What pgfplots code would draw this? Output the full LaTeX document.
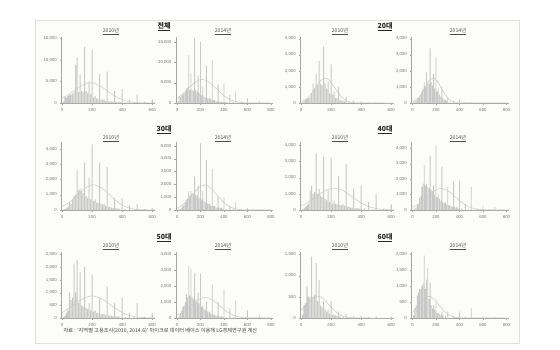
\documentclass[border=0pt]{standalone}
\usepackage{pgfplots}
\pgfplotsset{compat=1.18}
\usepackage{fontspec}
\setmainfont{Liberation Sans}
\newfontfamily\kr{Noto Sans CJK KR}
\definecolor{bg}{RGB}{252,252,249}
\definecolor{barc}{RGB}{200,200,200}
\definecolor{curc}{RGB}{200,200,200}
\pgfplotsset{
  hist/.style={
    scale only axis, anchor=south west,
    axis lines=left,
    axis line style={draw=black!35,-},
    ymin=0,
    major tick length=1.5pt,
    tick style={draw=black!35},
    tick align=outside,
    ticklabel style={font=\fontsize{4.3}{5}\selectfont, text=black!55},
    /pgf/number format/assume math mode=true,
    /pgf/number format/1000 sep={,},
    scaled y ticks=false,
    xtick={0,200,400,600,800},
    yticklabel style={xshift=0.5pt},
  },
  s6/.style={xmin=-5,xmax=620,width=94pt},
  s8/.style={xmin=-10,xmax=820,width=97.5pt},
  bars/.style={ybar, bar width=7, fill=barc, draw=none},
  curve/.style={smooth, no markers, draw=curc, line width=0.5pt},
}
\newcommand{\ttl}[3]{\node[font=\kr\bfseries\fontsize{7}{8}\selectfont, text=black!85] at (#1pt,#2pt) {\underline{#3}};}
\newcommand{\sub}[3]{\node[font=\kr\fontsize{5.2}{6}\selectfont, text=black!70] at (#1pt,#2pt) {\underline{#3}};}
\begin{document}
\begin{tikzpicture}
\useasboundingbox (0pt,0pt) rectangle (560pt,349pt);
\draw[black!12, line width=0.8pt, fill=bg] (35pt,6pt) rectangle (519pt,329pt);

% ---------- Row 1 ----------
\ttl{164}{322}{전체}
\sub{111}{317}{2010년}
\sub{223}{317}{2014년}
\ttl{385}{322}{20대}
\sub{340}{317}{2010년}
\sub{458}{317}{2014년}

\begin{axis}[hist,s6,at={(61.25pt,246pt)},height=66pt,ymax=15300,ytick={0,5000,10000,15000}]
\addplot[bars] coordinates {(10,300)(20,1500)(30,1200)(40,1600)(50,1800)(60,2000)(70,2200)(80,2600)(90,8800)(100,10500)(110,2500)(120,6600)(130,2800)(140,2500)(150,13000)(160,2800)(170,2300)(180,5000)(190,2000)(200,12300)(210,1300)(220,1600)(230,1100)(240,900)(250,6800)(260,800)(270,700)(280,900)(290,500)(300,7300)(310,400)(320,400)(330,350)(340,250)(350,2800)(360,250)(370,150)(380,250)(390,120)(400,3200)(410,80)(420,150)(430,80)(450,800)(470,80)(480,150)(500,2000)(520,80)(550,250)(600,800)};
\addplot[curve] coordinates {(0,1058)(25,1526)(80,2851)(135,4148)(190,4700)(245,4148)(300,2851)(355,1526)(410,636)(465,206)(520,52)(575,10)(620,2)};
\end{axis}

\begin{axis}[hist,s8,at={(175.8pt,246pt)},height=66pt,ymax=16200,ytick={0,5000,10000,15000}]
\addplot[bars] coordinates {(10,400)(20,1700)(30,1500)(40,1800)(50,2100)(60,2300)(70,2600)(80,3500)(90,3800)(100,11800)(110,3200)(120,7300)(130,3300)(140,3000)(150,16000)(160,3200)(170,2800)(180,6700)(190,2500)(200,15000)(210,1900)(220,4000)(230,1500)(240,1300)(250,9200)(260,1100)(270,1000)(280,1300)(290,800)(300,10500)(310,700)(320,700)(330,500)(340,400)(350,4500)(360,350)(370,250)(380,350)(390,200)(400,4800)(410,150)(420,250)(430,120)(450,2000)(470,120)(480,250)(500,3000)(520,120)(550,350)(600,1200)(650,150)(700,500)};
\addplot[curve] coordinates {(0,1165)(35,1883)(95,3518)(155,5119)(215,5800)(275,5119)(335,3518)(395,1883)(455,785)(515,255)(575,64)(635,13)(700,2)(820,0)};
\end{axis}

\begin{axis}[hist,s6,at={(300.25pt,246pt)},height=66pt,ymax=4100,ytick={0,1000,2000,3000,4000}]
\addplot[bars] coordinates {(10,30)(20,80)(30,200)(40,250)(50,300)(60,400)(70,600)(80,1200)(90,900)(100,1800)(110,1100)(120,2600)(130,1200)(140,1100)(150,3500)(160,1200)(170,900)(180,1300)(190,600)(200,2400)(210,500)(220,700)(230,300)(240,300)(250,1000)(260,200)(270,150)(280,150)(290,100)(300,400)(320,80)(350,150)(400,80)(450,30)(500,40)(600,20)};
\addplot[curve] coordinates {(0,75)(30,210)(62.5,503)(95,940)(127.5,1368)(160,1550)(192.5,1368)(225,940)(257.5,503)(290,210)(322.5,68)(355,17)(400,2)(620,0)};
\end{axis}

\begin{axis}[hist,s8,at={(411.3pt,246pt)},height=66pt,ymax=4100,ytick={0,1000,2000,3000,4000}]
\addplot[bars] coordinates {(10,30)(20,80)(30,150)(40,200)(50,300)(60,350)(70,500)(80,700)(90,900)(100,1300)(110,1000)(120,1900)(130,1200)(140,1200)(150,3400)(160,1300)(170,1100)(180,1800)(190,900)(200,2850)(210,700)(220,900)(230,500)(240,400)(250,1000)(260,300)(270,200)(280,200)(290,150)(300,400)(320,100)(350,150)(400,200)(450,50)(500,60)(600,40)(700,20)};
\addplot[curve] coordinates {(0,68)(35,210)(70,503)(105,940)(140,1368)(175,1550)(210,1368)(245,940)(280,503)(315,210)(350,68)(385,17)(420,3)(820,0)};
\end{axis}

% ---------- Row 2 ----------
\ttl{164}{219}{30대}
\sub{111}{210.5}{2010년}
\sub{223}{210.5}{2014년}
\ttl{385}{219}{40대}
\sub{340}{210.5}{2010년}
\sub{458}{210.5}{2014년}

\begin{axis}[hist,s6,at={(61.25pt,139pt)},height=68pt,ymax=4450,ytick={0,1000,2000,3000,4000}]
\addplot[bars] coordinates {(10,20)(20,50)(30,100)(40,200)(50,500)(60,400)(70,700)(80,900)(90,1000)(100,2600)(110,1300)(120,1400)(130,1200)(140,1100)(150,3100)(160,900)(170,800)(180,2100)(190,700)(200,4300)(210,600)(220,700)(230,500)(240,450)(250,3100)(260,400)(270,350)(280,400)(290,250)(300,2800)(310,200)(320,200)(330,150)(340,120)(350,800)(360,120)(370,80)(380,100)(400,800)(420,60)(450,300)(480,50)(500,400)(550,50)(600,100)};
\addplot[curve] coordinates {(0,223)(52.5,536)(105,1001)(157.5,1456)(210,1650)(262.5,1456)(315,1001)(367.5,536)(420,223)(472.5,72)(525,18)(577.5,4)(620,1)};
\end{axis}

\begin{axis}[hist,s8,at={(175.8pt,139pt)},height=68pt,ymax=5300,ytick={0,1000,2000,3000,4000,5000}]
\addplot[bars] coordinates {(10,20)(20,50)(30,100)(40,200)(50,350)(60,400)(70,600)(80,800)(90,900)(100,1500)(110,1100)(120,1500)(130,1300)(140,1200)(150,2600)(160,1200)(170,1100)(180,1900)(190,900)(200,5200)(210,800)(220,1500)(230,700)(240,600)(250,3900)(260,500)(270,450)(280,500)(290,350)(300,3200)(310,300)(320,300)(330,250)(340,180)(350,1000)(360,180)(370,120)(380,180)(390,80)(400,1000)(420,80)(450,300)(480,60)(500,600)(550,60)(600,150)(700,50)};
\addplot[curve] coordinates {(0,159)(25,264)(77.5,633)(130,1183)(182.5,1721)(235,1950)(287.5,1721)(340,1183)(392.5,633)(445,264)(497.5,86)(550,22)(602.5,4)(820,0)};
\end{axis}

\begin{axis}[hist,s6,at={(300.25pt,139pt)},height=68pt,ymax=4200,ytick={0,1000,2000,3000,4000}]
\addplot[bars] coordinates {(10,30)(20,100)(30,200)(40,300)(50,400)(60,1200)(70,1500)(80,1000)(90,1100)(100,3500)(110,1000)(120,1300)(130,900)(140,800)(150,3300)(160,700)(170,600)(180,1200)(190,500)(200,3200)(210,400)(220,600)(230,400)(240,350)(250,2100)(260,300)(270,300)(280,350)(290,250)(300,2850)(310,200)(320,200)(330,150)(340,150)(350,1300)(360,120)(370,100)(380,120)(390,80)(400,1500)(420,100)(450,500)(480,60)(500,1000)(550,80)(600,350)};
\addplot[curve] coordinates {(0,252)(40,438)(100,819)(160,1191)(220,1350)(280,1191)(340,819)(400,438)(460,183)(520,59)(580,15)(620,4)};
\end{axis}

\begin{axis}[hist,s8,at={(411.3pt,139pt)},height=68pt,ymax=4400,ytick={0,1000,2000,3000,4000}]
\addplot[bars] coordinates {(10,30)(20,80)(30,150)(40,300)(50,400)(60,800)(70,900)(80,1500)(90,1700)(100,2900)(110,1600)(120,1700)(130,1500)(140,1400)(150,3500)(160,1300)(170,1200)(180,1600)(190,1000)(200,4200)(210,800)(220,1000)(230,700)(240,600)(250,2800)(260,500)(270,450)(280,500)(290,350)(300,1500)(310,300)(320,300)(330,250)(340,200)(350,1800)(360,200)(370,150)(380,180)(390,100)(400,1900)(420,120)(450,400)(480,80)(500,1500)(550,100)(600,300)(650,60)(700,200)};
\addplot[curve] coordinates {(0,174)(65,455)(125,849)(185,1236)(245,1400)(305,1236)(365,849)(425,455)(485,189)(545,61)(605,16)(665,3)(820,0)};
\end{axis}

% ---------- Row 3 ----------
\ttl{164}{111}{50대}
\sub{111}{102.5}{2010년}
\sub{223}{102.5}{2014년}
\ttl{385}{111}{60대}
\sub{340}{102.5}{2010년}
\sub{458}{102.5}{2014년}

\begin{axis}[hist,s6,at={(61.25pt,31pt)},height=66pt,ymax=2600,ytick={0,500,1000,1500,2000,2500}]
\addplot[bars] coordinates {(10,30)(20,100)(30,200)(40,300)(50,1000)(60,700)(70,800)(80,2100)(90,1000)(100,2300)(110,600)(120,1800)(130,500)(140,450)(150,2000)(160,400)(170,350)(180,600)(190,300)(200,1700)(210,250)(220,300)(230,200)(240,200)(250,800)(260,150)(270,150)(280,150)(290,100)(300,1250)(310,100)(320,100)(330,80)(340,80)(350,600)(360,60)(370,50)(380,60)(400,800)(420,40)(450,200)(480,30)(500,600)(550,40)(600,180)};
\addplot[curve] coordinates {(0,217)(20,282)(80,528)(140,768)(200,870)(260,768)(320,528)(380,282)(440,118)(500,38)(560,10)(620,2)};
\end{axis}

\begin{axis}[hist,s8,at={(175.8pt,31pt)},height=66pt,ymax=4150,ytick={0,1000,2000,3000,4000}]
\addplot[bars] coordinates {(10,40)(20,150)(30,300)(40,500)(50,700)(60,800)(70,1000)(80,1500)(90,1300)(100,3300)(110,1400)(120,3100)(130,1300)(140,1200)(150,2800)(160,1100)(170,1000)(180,1600)(190,900)(200,2800)(210,700)(220,800)(230,600)(240,500)(250,1000)(260,400)(270,350)(280,400)(290,250)(300,2100)(310,200)(320,200)(330,150)(340,130)(350,1000)(360,100)(370,80)(380,100)(390,60)(400,1800)(420,60)(450,600)(480,40)(500,1100)(550,60)(600,500)(650,40)(700,200)};
\addplot[curve] coordinates {(0,176)(60,422)(120,788)(180,1147)(240,1300)(300,1147)(360,788)(420,422)(480,176)(540,57)(600,14)(660,3)(820,0)};
\end{axis}

\begin{axis}[hist,s6,at={(300.25pt,31pt)},height=66pt,ymax=1560,ytick={0,500,1000,1500}]
\addplot[bars] coordinates {(10,80)(20,300)(30,350)(40,750)(50,500)(60,500)(70,1450)(80,500)(90,550)(100,1300)(110,400)(120,900)(130,300)(140,250)(150,400)(160,200)(170,150)(180,200)(190,100)(200,400)(210,80)(220,80)(230,60)(240,50)(250,150)(260,40)(280,40)(300,100)(350,40)(400,50)(450,20)(500,50)(600,20)};
\addplot[curve] coordinates {(0,177)(35,315)(72.5,459)(110,520)(147.5,459)(185,315)(222.5,169)(260,70)(297.5,23)(335,6)(400,0.5)(620,0)};
\end{axis}

\begin{axis}[hist,s8,at={(411.3pt,31pt)},height=66pt,ymax=2060,ytick={0,500,1000,1500,2000}]
\addplot[bars] coordinates {(10,80)(20,300)(30,400)(40,700)(50,800)(60,900)(70,900)(80,1000)(90,1100)(100,1950)(110,900)(120,1200)(130,1550)(140,600)(150,1100)(160,400)(170,300)(180,400)(190,250)(200,500)(210,150)(220,150)(230,120)(240,100)(250,200)(260,80)(280,80)(300,200)(350,60)(400,200)(450,40)(500,300)(600,50)(700,40)};
\addplot[curve] coordinates {(0,175)(55,412)(97.5,600)(140,680)(182.5,600)(225,412)(267.5,221)(310,92)(352.5,30)(395,8)(437.5,1.5)(820,0)};
\end{axis}

\node[anchor=west, font=\kr\fontsize{5.2}{6}\selectfont, text=black!75] at (60pt,18pt) {자료 : ‘지역별 고용조사(2010, 2014.6)’ 마이크로 데이터 베이스 이용해 LG경제연구원 계산};
\end{tikzpicture}
\end{document}
